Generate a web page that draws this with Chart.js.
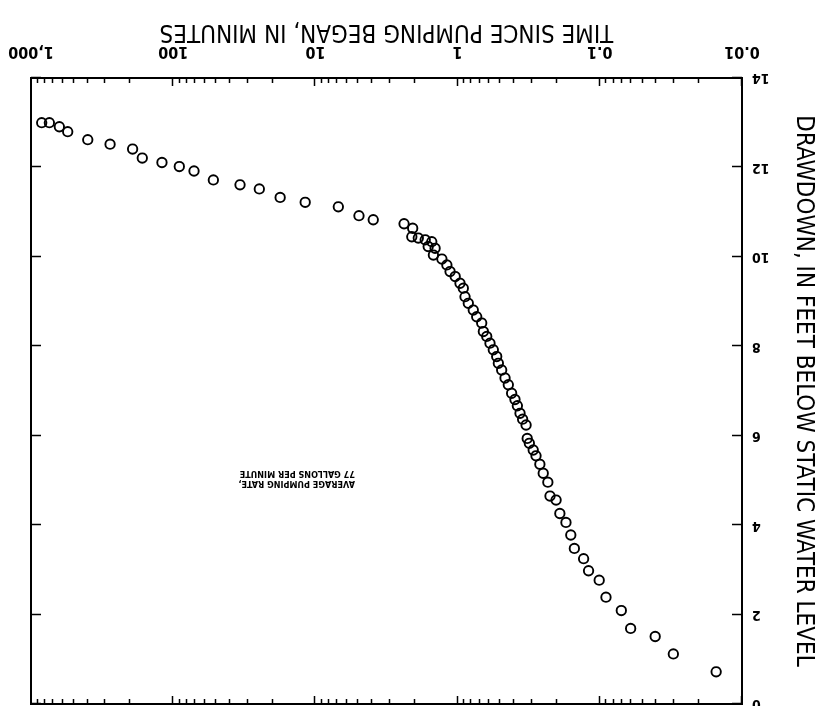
<!DOCTYPE html>
<html>
<head>
<meta charset="utf-8">
<script src="https://cdn.jsdelivr.net/npm/chart.js@4.4.0/dist/chart.umd.min.js"></script>
<style>
  html, body { margin: 0; padding: 0; background: #fff; }
  /* the scanned sheet is upside down: draw the chart upright, then turn it */
  #wrap { width: 826px; height: 706px; transform: rotate(180deg); }
</style>
</head>
<body>
<div id="wrap"><canvas id="chart" width="826" height="706"></canvas></div>
<script>
'use strict';

// ─── Data ─────────────────────────────────────────────────────────────────────

const minutes = [
  0.0152, 0.0304, 0.0408, 0.0607, 0.0706, 0.0905, 0.101, 0.12, 0.13, 0.151,
  0.16, 0.173, 0.191, 0.203, 0.224, 0.232, 0.25, 0.264, 0.281, 0.294,
  0.313, 0.324, 0.33, 0.349, 0.364, 0.38, 0.395, 0.417, 0.44, 0.464,
  0.49, 0.517, 0.531, 0.561, 0.592, 0.624, 0.659, 0.677, 0.734, 0.776,
  0.841, 0.887, 0.912, 0.962, 1.04, 1.13, 1.19, 1.29, 1.44, 1.48,
  1.52, 1.61, 1.69, 1.89, 2.1, 2.07, 2.38, 3.92, 4.94, 6.9, 11.8,
  17.7, 24.8, 33.9, 52.2, 71.4, 90.6, 120, 165, 193, 278,
  399, 552, 632, 743, 841,
];
const drawdownFt = [
  0.72, 1.12, 1.51, 1.69, 2.09, 2.39, 2.77, 2.98, 3.25, 3.48,
  3.78, 4.06, 4.26, 4.56, 4.65, 4.96, 5.16, 5.36, 5.55, 5.68,
  5.83, 5.94, 6.24, 6.37, 6.5, 6.67, 6.81, 6.95, 7.14, 7.29,
  7.47, 7.62, 7.77, 7.92, 8.07, 8.22, 8.33, 8.52, 8.66, 8.81,
  8.96, 9.11, 9.3, 9.41, 9.56, 9.67, 9.82, 9.95, 10.19, 10.04,
  10.34, 10.23, 10.38, 10.42, 10.45, 10.64, 10.74, 10.83, 10.92, 11.12, 11.22,
  11.33, 11.52, 11.61, 11.72, 11.92, 12.02, 12.11, 12.21, 12.41, 12.52,
  12.62, 12.8, 12.91, 13.0, 13.0,
];

const timeTicks = [0.01, 0.1, 1, 10, 100, 1000];
const timeTickLabels = ['0.01', '0.1', '1', '10', '100', '1,000'];
const drawdownTicks = [0, 2, 4, 6, 8, 10, 12, 14];

const noteLines = ['AVERAGE PUMPING RATE,', '77 GALLONS PER MINUTE'];
const noteAt = { x: 5.27, y: 4.94 };

const FONT = "'Liberation Sans Narrow', 'DejaVu Sans Condensed', 'Liberation Sans', sans-serif";

// ─── Frame, inward ticks on all four sides, pumping-rate note ─────────────────

const frameAndTicks = {
  id: 'frameAndTicks',
  afterDatasetsDraw(chart) {
    const { ctx, chartArea: a, scales: { x, y } } = chart;
    ctx.save();
    ctx.strokeStyle = '#000';

    ctx.lineWidth = 1.5;
    ctx.beginPath();
    timeTicks.slice(0, -1).forEach(dec => {
      for (let m = 1; m < 10; m++) {
        const px = Math.round(x.getPixelForValue(dec * m)) + 0.5;
        const len = m === 1 ? 8 : 5;
        ctx.moveTo(px, a.bottom); ctx.lineTo(px, a.bottom - len);
        ctx.moveTo(px, a.top); ctx.lineTo(px, a.top + len);
      }
    });
    drawdownTicks.forEach(v => {
      const py = Math.round(y.getPixelForValue(v)) + 0.5;
      ctx.moveTo(a.left, py); ctx.lineTo(a.left + 10, py);
      ctx.moveTo(a.right, py); ctx.lineTo(a.right - 10, py);
    });
    ctx.stroke();

    ctx.lineWidth = 2;
    ctx.strokeRect(a.left, a.top, a.right - a.left, a.bottom - a.top);

    ctx.fillStyle = '#000';
    ctx.font = `bold 9px ${FONT}`;
    ctx.textAlign = 'left';
    ctx.textBaseline = 'middle';
    const nx = x.getPixelForValue(noteAt.x);
    const ny = y.getPixelForValue(noteAt.y);
    noteLines.forEach((line, i) => ctx.fillText(line, nx, ny + i * 10));
    ctx.restore();
  },
};

// ─── Chart ────────────────────────────────────────────────────────────────────

new Chart(document.getElementById('chart'), {
  type: 'scatter',
  data: {
    datasets: [{
      data: minutes.map((t, i) => ({ x: t, y: drawdownFt[i] })),
      pointStyle: 'circle',
      pointRadius: 4.7,
      borderWidth: 1.9,
      borderColor: '#000',
      backgroundColor: 'rgba(0,0,0,0)',
    }],
  },
  options: {
    responsive: false,
    animation: false,
    layout: { autoPadding: false, padding: { top: 2, right: 31, bottom: 0, left: 0 } },
    plugins: { legend: { display: false }, tooltip: { enabled: false } },
    scales: {
      x: {
        type: 'logarithmic',
        position: 'bottom',
        min: 0.01,
        max: 1000,
        afterBuildTicks: s => { s.ticks = timeTicks.map(v => ({ value: v })); },
        afterFit: s => { s.height = 78; s.paddingLeft = 0; s.paddingRight = 0; },
        grid: { display: false, drawTicks: false },
        border: { display: false },
        ticks: {
          autoSkip: false,
          maxRotation: 0,
          padding: 17,
          color: '#000',
          font: { family: FONT, size: 16, weight: 'bold' },
          callback: v => timeTickLabels[timeTicks.indexOf(v)],
        },
        title: {
          display: true,
          text: 'TIME SINCE PUMPING BEGAN, IN MINUTES',
          color: '#000',
          font: { family: FONT, size: 24 },
          padding: { top: 0, bottom: 17 },
        },
      },
      y: {
        type: 'linear',
        position: 'left',
        min: 0,
        max: 14,
        reverse: true,
        afterBuildTicks: s => { s.ticks = drawdownTicks.map(v => ({ value: v })); },
        afterFit: s => { s.width = 84; s.paddingTop = 0; s.paddingBottom = 0; },
        grid: { display: false, drawTicks: false },
        border: { display: false },
        ticks: {
          padding: 10,
          color: '#000',
          font: { family: FONT, size: 14, weight: 'bold' },
        },
        title: {
          display: true,
          text: 'DRAWDOWN, IN FEET BELOW STATIC WATER LEVEL',
          color: '#000',
          font: { family: FONT, size: 24 },
          padding: { top: 8, bottom: 0 },
        },
      },
    },
  },
  plugins: [frameAndTicks],
});
</script>
</body>
</html>
